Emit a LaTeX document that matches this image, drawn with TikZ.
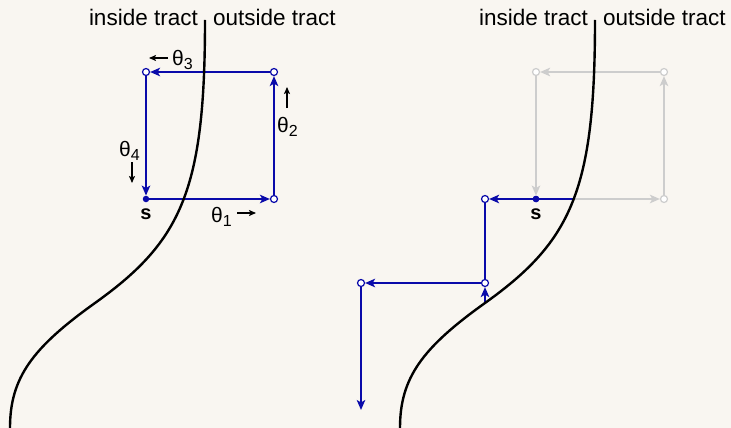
\documentclass[tikz,border=0pt]{standalone}
\usepackage{fontspec}
\setmainfont{Liberation Sans}
\usetikzlibrary{arrows.meta}
\definecolor{bg}{RGB}{249,246,241}
\definecolor{pblue}{RGB}{10,10,170}
\definecolor{pgray}{RGB}{205,205,205}
\newcommand\thl[1]{{\fontsize{21}{21}\selectfont θ}\raisebox{-4pt}{\fontsize{16}{16}\selectfont #1}}
\begin{document}
\begin{tikzpicture}[x=1pt,y=-1pt,
  lbl/.style={font=\fontsize{22.5}{27}\selectfont, inner sep=0},
  slbl/.style={font=\fontsize{20}{24}\selectfont\bfseries, inner sep=0},
  thlbl/.style={inner sep=0},
  opt/.style={circle, draw=pblue, fill=white, line width=1.2pt, minimum size=7pt, inner sep=0},
  gopt/.style={opt, draw=pgray},
  sdot/.style={circle, fill=pblue, minimum size=6.5pt, inner sep=0},
  barrow/.style={draw=pblue, line width=1.8pt, -{Stealth[length=10pt,width=8.5pt,inset=2.5pt]}},
  gbarrow/.style={barrow, draw=pgray},
  bline/.style={draw=pblue, line width=1.8pt},
  karrow/.style={draw=black, line width=1.2pt, -{Stealth[length=7pt,width=6pt,inset=1.5pt]}},
  tract/.style={draw=black, line width=2.4pt}]
\useasboundingbox (0,0) rectangle (731,428);
\fill[bg] (0,0) rectangle (731,428);

% ---------- left panel ----------
\node[sdot] (s1) at (146,199) {};
\node[opt] (a1) at (274,199) {};
\node[opt] (b1) at (274,72) {};
\node[opt] (c1) at (146,72) {};
\draw[barrow] (s1) -- (a1);
\draw[barrow] (a1) -- (b1);
\draw[barrow] (b1) -- (c1);
\draw[barrow] (c1) -- (s1);
\node[slbl, anchor=base] (sl1) at (146,219) {s};

\node[thlbl, anchor=base west] (t1) at (211,222) {\thl{1}};
\node[thlbl, anchor=base west] (t2) at (277,132) {\thl{2}};
\node[thlbl, anchor=base west] (t3) at (172,66) {\thl{3}};
\node[thlbl, anchor=base west] (t4) at (119,156) {\thl{4}};
\coordinate (k1a) at (237,213); \coordinate (k1b) at (256,213);
\coordinate (k2a) at (287,108); \coordinate (k2b) at (287,87);
\coordinate (k3a) at (168,58);  \coordinate (k3b) at (149,58);
\coordinate (k4a) at (132,162); \coordinate (k4b) at (132,183);
\draw[karrow] (k1a) -- (k1b);
\draw[karrow] (k2a) -- (k2b);
\draw[karrow] (k3a) -- (k3b);
\draw[karrow] (k4a) -- (k4b);

% ---------- right panel ----------
\node[sdot] (s2) at (536,199) {};
\node[gopt] (a2) at (664,199) {};
\node[gopt] (b2) at (664,72) {};
\node[gopt] (c2) at (536,72) {};
\draw[gbarrow] (s2) -- (a2);
\draw[gbarrow] (a2) -- (b2);
\draw[gbarrow] (b2) -- (c2);
\draw[gbarrow] (c2) -- (s2);

\coordinate (x1) at (573,199);
\node[opt] (d2) at (485,199) {};
\coordinate (x2) at (485,303);
\node[opt] (e2) at (485,283) {};
\node[opt] (f2) at (361,283) {};
\coordinate (g2) at (361,410);
\draw[barrow] (x1) -- (d2);
\draw[bline] (d2) -- (e2);
\draw[barrow] (x2) -- (e2);
\draw[barrow] (e2) -- (f2);
\draw[barrow] (f2) -- (g2);
\node[sdot] (s2top) at (s2) {};
\node[slbl, anchor=base] (sl2) at (536,219) {s};

% ---------- tract boundaries and labels ----------
\foreach \dx/\nm in {0/L,390/R}{
  \begin{scope}[xshift=\dx pt]
    \draw[tract] (205,20) .. controls (205,190) and (181.8,241) .. (95,303)
      .. controls (32,348) and (10,378) .. (10,428) -- (10,445);
    \node[lbl, anchor=base east] (in\nm) at (198,26) {inside tract};
    \node[lbl, anchor=base west] (out\nm) at (213,26) {outside tract};
  \end{scope}
}
\end{tikzpicture}
\end{document}
